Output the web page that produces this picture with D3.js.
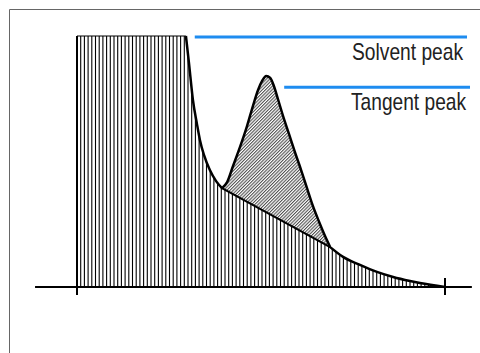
<!DOCTYPE html>
<html>
<head>
<meta charset="utf-8">
<script src="https://cdn.jsdelivr.net/npm/d3@7"></script>
<style>
  body { margin: 0; background: #fff; }
  svg { display: block; }
</style>
</head>
<body>
<div id="chart"></div>
<script>
// Solvent peak (clipped at full scale), then its decay down to the valley
const plateauTime  = [0, 2.96];
const plateauValue = [100, 100];
const decayTime  = [2.96, 3.04, 3.15, 3.26, 3.34, 3.45, 3.61, 3.78, 3.94];
const decayValue = [100, 89.6, 74.5, 64.9, 58.6, 52.6, 46.6, 42.2, 39.4];

// Rider peak sitting on the solvent tail
const peakTime  = [3.94, 4.08, 4.24, 4.43, 4.62, 4.78, 4.92, 5.03, 5.14, 5.25, 5.35, 5.46, 5.60, 5.76, 5.92, 6.09, 6.25, 6.41, 6.58, 6.74, 6.88];
const peakValue = [39.4, 41.8, 48.2, 55.8, 64.1, 72.1, 78.5, 82.1, 84.1, 83.3, 80.1, 74.9, 68.1, 61.0, 53.8, 46.6, 39.4, 32.3, 25.9, 20.3, 15.9];

// Rest of the solvent tail back to baseline
const tailTime  = [6.88, 7.23, 7.69, 8.15, 8.59, 9.05, 9.32, 10];
const tailValue = [15.9, 12.0, 8.8, 6.0, 4.0, 2.4, 1.6, 0];

// Tangent skim from valley to touch point
const tangentTime  = [3.94, 6.88];
const tangentValue = [39.4, 15.9];

// Integration marks and axis extent
const markTimes = [0, 10];
const axisExtent = [-1.14, 10.73];

const labels = ["Solvent peak", "Tangent peak"];
const labelLevels = [100, 80];
const labelStart = [3.2, 5.63];

const W = 480, H = 353;

const svg = d3.select("#chart")
    .append("svg")
    .attr("width", W)
    .attr("height", H);

const x = d3.scaleLinear().domain([0, 10]).range([77, 445]);
const y = d3.scaleLinear().domain([0, 100]).range([287, 36]);

const zip = (t, v) => t.map((d, i) => [d, v[i]]);
const plateau = zip(plateauTime, plateauValue);
const decay = zip(decayTime, decayValue);
const peak = zip(peakTime, peakValue);
const tail = zip(tailTime, tailValue);
const tangent = zip(tangentTime, tangentValue);

const smooth = d3.line().x(d => x(d[0])).y(d => y(d[1])).curve(d3.curveMonotoneX);
const straight = d3.line().x(d => x(d[0])).y(d => y(d[1]));
const cont = p => "L" + p.slice(1);   // join a path onto the previous one

const defs = svg.append("defs");

// area under solvent + tangent skim
const solventArea = straight([[0, 0], ...plateau]) + cont(smooth(decay)) +
    cont(straight(tangent)) + cont(smooth(tail)) + "Z";
// area of rider peak above tangent
const peakArea = smooth(peak) + cont(straight(tangent.slice().reverse())) + "Z";

defs.append("clipPath").attr("id", "clipSolvent")
  .append("path").attr("d", solventArea);

defs.append("pattern")
    .attr("id", "diag")
    .attr("patternUnits", "userSpaceOnUse")
    .attr("width", 2.3)
    .attr("height", 2.3)
    .attr("patternTransform", "rotate(45)")
  .append("line")
    .attr("x1", 0.6).attr("x2", 0.6)
    .attr("y1", 0).attr("y2", 2.3)
    .attr("stroke", "#111")
    .attr("stroke-width", 0.8);

// vertical hatching
svg.append("g")
    .attr("clip-path", "url(#clipSolvent)")
  .selectAll("line")
  .data(d3.range(x(0), x(10), 3.7))
  .join("line")
    .attr("x1", d => d).attr("x2", d => d)
    .attr("y1", y(100) - 2).attr("y2", y(0))
    .attr("stroke", "#000")
    .attr("stroke-width", 1.1);

// diagonal hatching on the rider peak
svg.append("path")
    .attr("d", peakArea)
    .attr("fill", "url(#diag)");

// outlines
svg.append("path")
    .attr("d", straight(plateau))
    .attr("fill", "none").attr("stroke", "#000").attr("stroke-width", 1.2);

svg.append("path")
    .attr("d", smooth(decay) + cont(smooth(peak)) + cont(smooth(tail)))
    .attr("fill", "none").attr("stroke", "#000").attr("stroke-width", 2.5)
    .attr("stroke-linejoin", "round");

svg.append("path")
    .attr("d", straight(tangent))
    .attr("fill", "none").attr("stroke", "#000").attr("stroke-width", 2.2);

// baseline axis and marks
svg.append("line")
    .attr("x1", x(axisExtent[0])).attr("x2", x(axisExtent[1]))
    .attr("y1", y(0)).attr("y2", y(0))
    .attr("stroke", "#000").attr("stroke-width", 2);

svg.selectAll(".mark")
  .data(markTimes)
  .join("line")
    .attr("class", "mark")
    .attr("x1", d => x(d)).attr("x2", d => x(d))
    .attr("y1", (d, i) => i === 0 ? y(100) : y(0) - 9)
    .attr("y2", y(0) + 8)
    .attr("stroke", "#000")
    .attr("stroke-width", 2);

// labels with blue leader lines
svg.selectAll(".leader")
  .data(labels)
  .join("line")
    .attr("class", "leader")
    .attr("x1", (d, i) => x(labelStart[i]))
    .attr("x2", (d, i) => i === 0 ? 467 : 470)
    .attr("y1", (d, i) => y(labelLevels[i]) + 1)
    .attr("y2", (d, i) => y(labelLevels[i]) + 1)
    .attr("stroke", "#1e8cf0")
    .attr("stroke-width", 3);

// condensed look: draw at full size, then squeeze horizontally to the width
const labelWidth = [111, 115];
const labelG = svg.selectAll(".label")
  .data(labels)
  .join("g")
    .attr("class", "label");

labelG.append("text")
    .attr("text-anchor", "end")
    .attr("font-family", "'Liberation Sans', Arial, sans-serif")
    .attr("font-size", 24)
    .attr("fill", "#222")
    .text(d => d);

labelG.attr("transform", function(d, i) {
  const len = this.querySelector("text").getComputedTextLength();
  const k = labelWidth[i] / len;
  const tx = i === 0 ? 463 : 466;
  const ty = y(labelLevels[i]) + 24;
  return "translate(" + tx + "," + ty + ") scale(" + k + ",1)";
});

// frame
svg.append("path")
    .attr("d", "M9.5," + H + "V9.5H" + W)
    .attr("fill", "none")
    .attr("stroke", "#666")
    .attr("stroke-width", 1);
</script>
</body>
</html>
